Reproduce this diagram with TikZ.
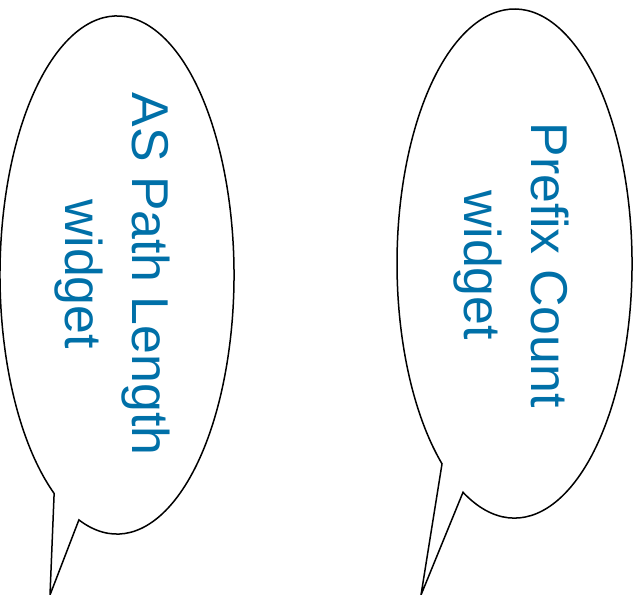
\documentclass[tikz,border=0pt]{standalone}
\usepackage{fontspec}
\setmainfont{Liberation Sans}
\definecolor{labelblue}{RGB}{0,112,168}
\begin{document}
\begin{tikzpicture}[x=1pt,y=1pt,
  bubble/.style={draw=black,line width=1.5pt,fill=white,line join=miter},
  bubbletext/.style={text=labelblue,rotate=-90,align=center,font=\fontsize{51.8}{67}\selectfont,inner sep=0pt}]
\useasboundingbox (0,0) rectangle (639,594);
% left bubble
\draw[bubble] (78.9,74.1) arc[start angle=251,end angle=597.5,x radius=117,y radius=259] -- (50,-1) -- cycle;
% right bubble
\draw[bubble] (463,101.7) arc[start angle=244,end angle=591.9,x radius=117.5,y radius=254.5] -- (421,-1) -- cycle;
\node[bubbletext] (lefttext) at (112,320) {AS Path Length\\widget};
\node[bubbletext] (righttext) at (511,329) {Prefix Count\\widget};
\end{tikzpicture}
\end{document}
